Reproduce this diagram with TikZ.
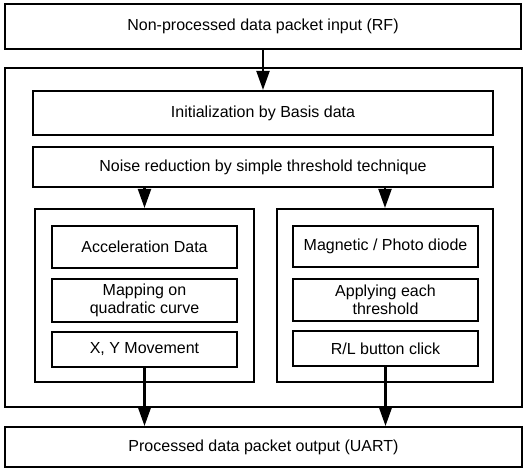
\documentclass[tikz,border=0pt]{standalone}
\usepackage{fontspec}
\setmainfont{Liberation Sans}
\usetikzlibrary{arrows.meta}
\begin{document}
\begin{tikzpicture}[x=1pt,y=-1pt,
  box/.style={draw=black,line width=2.1pt,fill=white,inner sep=0pt,align=center,font=\fontsize{16}{17.5}\selectfont},
  frame/.style={draw=black,line width=2.1pt,inner sep=0pt},
  flow/.style={line width=2.1pt,-{Triangle[length=19pt,width=13pt]}}]
\useasboundingbox (0,0) rectangle (524,470);
\node[frame,minimum width=517pt,minimum height=339pt] (outer) at (263.5,237.5) {};
\node[box,minimum width=516pt,minimum height=45pt] (top) at (263,26.5) {Non-processed data packet input (RF)};
\node[box,minimum width=460pt,minimum height=44pt] (init) at (263,113) {Initialization by Basis data};
\node[box,minimum width=460pt,minimum height=40pt] (noise) at (263,167) {Noise reduction by simple threshold technique};
\node[frame,minimum width=219pt,minimum height=173pt] (leftc) at (144.5,295.5) {};
\node[frame,minimum width=216pt,minimum height=173pt] (rightc) at (385,295.5) {};
\node[box,minimum width=185pt,minimum height=42pt] (accel) at (144.5,247) {Acceleration Data};
\node[box,minimum width=185pt,minimum height=43pt] (map) at (144.5,300.5) {Mapping on\\quadratic curve};
\node[box,minimum width=185pt,minimum height=35pt] (xy) at (144.5,349.5) {X, Y Movement};
\node[box,minimum width=185pt,minimum height=41pt] (mag) at (385.5,246.5) {Magnetic / Photo diode};
\node[box,minimum width=185pt,minimum height=42pt] (apply) at (385.5,300) {Applying each\\threshold};
\node[box,minimum width=185pt,minimum height=35pt] (rl) at (385.5,348.5) {R/L button click};
\node[box,minimum width=517pt,minimum height=40pt] (bottom) at (263.5,447) {Processed data packet output (UART)};
\draw[flow] (top) -- (init);
\draw[flow] (noise.south -| leftc.north) -- (leftc.north);
\draw[flow] (noise.south -| rightc.north) -- (rightc.north);
\draw[flow] (xy) -- (xy |- bottom.north);
\draw[flow] (rl) -- (rl |- bottom.north);
\end{tikzpicture}
\end{document}
